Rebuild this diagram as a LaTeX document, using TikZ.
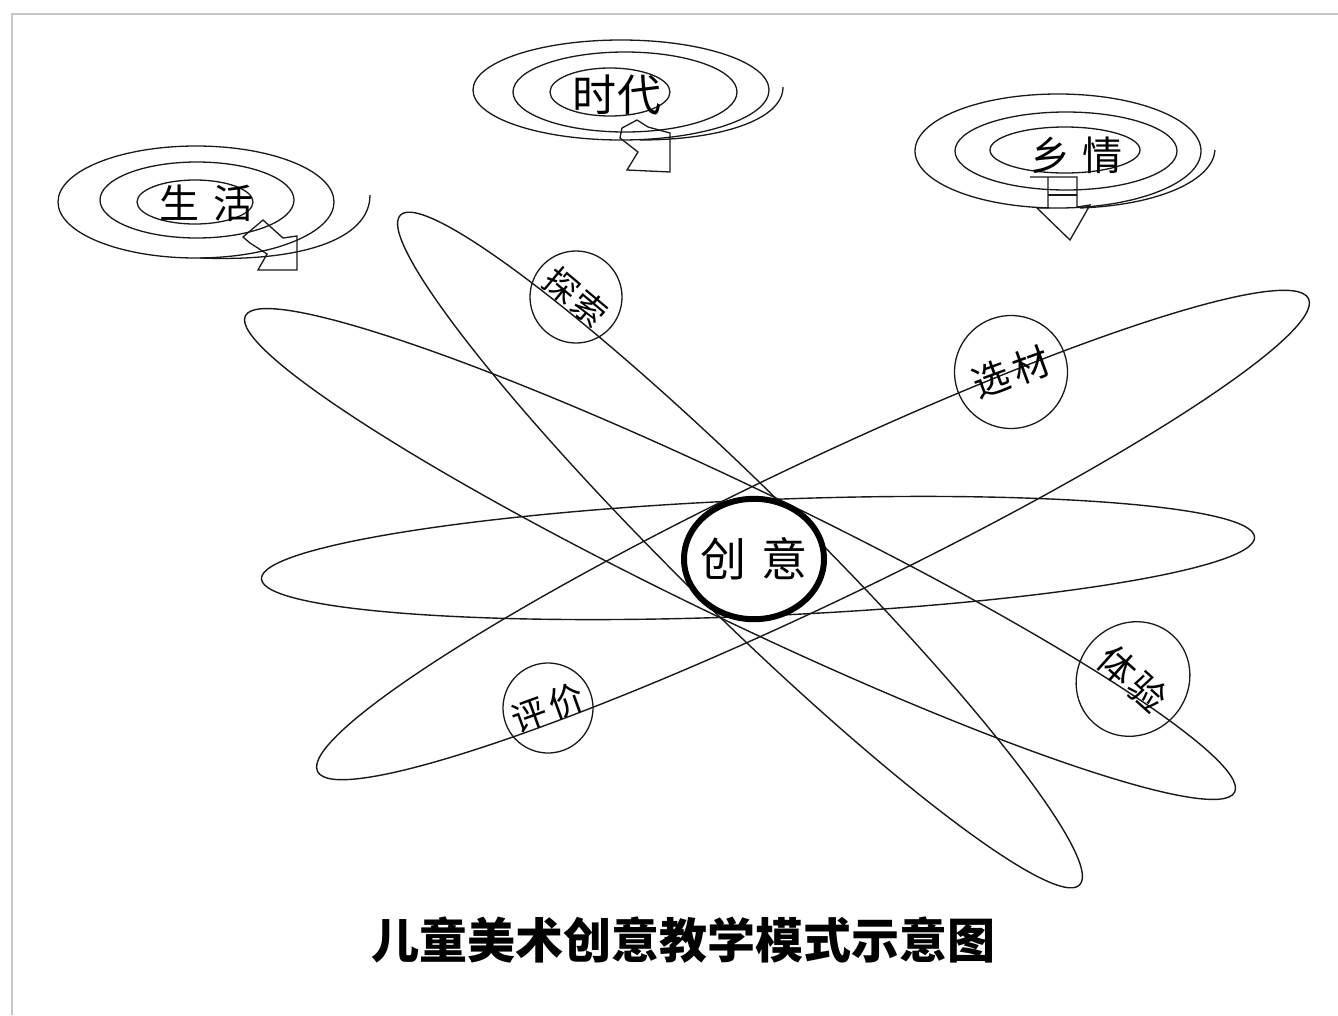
\documentclass[tikz,border=0pt]{standalone}
\usepackage{fontspec}
\setmainfont{Liberation Sans}
\newfontfamily\cjk{Noto Sans CJK SC}
\usetikzlibrary{shapes.geometric}
\tikzset{
  ln/.style={line width=1.4pt, draw=black!90},
  bigell/.style={ln},
  ring/.style={ln, line width=1.3pt},
  lbl/.style={draw=black!90, line width=1.3pt, inner sep=0pt, font=\cjk\fontsize{37pt}{37pt}\selectfont},
  sptext/.style={inner sep=0pt, font=\cjk\fontsize{40pt}{40pt}\selectfont},
}
\begin{document}
\begin{tikzpicture}[x=1pt,y=-1pt]
\useasboundingbox (0,0) rectangle (1338,1015);
\fill[white] (0,0) rectangle (1338,1015);
% frame
\draw[gray!45, line width=1.5pt] (12,1015) -- (12,14) -- (1338,14);

% large ellipses
\draw[bigell, rotate around={2.4:(758,558)}] (758,558) ellipse [x radius=497pt, y radius=58pt];
\draw[bigell, rotate around={-25.7:(740,554)}] (740,554) ellipse [x radius=549pt, y radius=66pt];
\draw[bigell, rotate around={-44.6:(740,550)}] (740,550) ellipse [x radius=477pt, y radius=62pt];
\draw[bigell, rotate around={25.5:(813,535)}] (813,535) ellipse [x radius=549pt, y radius=70pt];

% centre node
\node[circle, draw=black, line width=6pt, fill=white, minimum width=140pt, inner sep=0pt,
      xscale=1, yscale=0.86] (cy) at (754,559) {};
\node[inner sep=0pt, font=\cjk\fontsize{46pt}{46pt}\selectfont] (cyt) at (cy.center) {创\hspace{16pt}意};

% small labelled circles
\node[lbl, circle, minimum size=92pt, rotate=-40, font=\cjk\fontsize{34pt}{34pt}\selectfont] (tansuo) at (576,297) {探\hspace{3pt}索};
\node[lbl, circle, minimum size=113pt, rotate=20] (xuancai) at (1011,372) {选\hspace{6pt}材};
\node[lbl, circle, minimum size=90pt, rotate=20, font=\cjk\fontsize{35pt}{35pt}\selectfont] (pingjia) at (548,708) {评\hspace{4pt}价};
\node[lbl, ellipse, minimum width=107pt, minimum height=118pt, rotate=-42] (tiyan) at (1133,679) {体\hspace{4pt}验};

% spiral: 生活
\draw[ring] (195,202) ellipse [x radius=58pt, y radius=22pt];
\draw[ring] (197,200) ellipse [x radius=97pt, y radius=38pt];
\draw[ring] (196,202) ellipse [x radius=138pt, y radius=56pt];
\coordinate (shtail) at (370,195);
\draw[ring] (200,258) .. controls (300,262) and (370,240) .. (shtail);
\node[sptext] (sh) at (206,203) {生\hspace{14pt}活};
\draw[ring] (243,237) -- (263,220) -- (283,238) -- (297,236) -- (297,270) -- (258,270) -- (267,254) -- (250,243) -- cycle;

% spiral: 时代
\draw[ring] (610,92) ellipse [x radius=60pt, y radius=24pt];
\draw[ring] (625,92) ellipse [x radius=112pt, y radius=40pt];
\draw[ring] (621,90) ellipse [x radius=148pt, y radius=50pt];
\coordinate (sdtail) at (783,87);
\draw[ring] (640,140) .. controls (720,140) and (783,120) .. (sdtail);
\node[sptext, font=\cjk\fontsize{44pt}{44pt}\selectfont] (sd) at (617,95) {时\hspace{2pt}代};
\draw[ring] (622,128) -- (637,120) -- (648,127) -- (670,133) -- (670,172) -- (627,170) -- (638,152) -- (620,138) -- cycle;

% spiral: 乡情
\draw[ring] (1065,150) ellipse [x radius=75pt, y radius=23pt];
\draw[ring] (1066,151) ellipse [x radius=111pt, y radius=39pt];
\draw[ring] (1058,151) ellipse [x radius=143pt, y radius=57pt];
\coordinate (xqtail) at (1215,150);
\draw[ring] (1080,208) .. controls (1160,205) and (1213,180) .. (xqtail);
\node[sptext] (xq) at (1076,155) {乡\hspace{12pt}情};
\draw[ring] (1030,177) -- (1077,177) -- (1077,207) -- (1090,205) -- (1070,240) -- (1037,208) -- (1048,208) -- (1048,177);
\draw[ring] (1048,195) -- (1077,195);

% title
\node[inner sep=0pt, font=\cjk\bfseries\fontsize{48pt}{48pt}\selectfont] (title) at (683,940) {儿童美术创意教学模式示意图};
\end{tikzpicture}
\end{document}
